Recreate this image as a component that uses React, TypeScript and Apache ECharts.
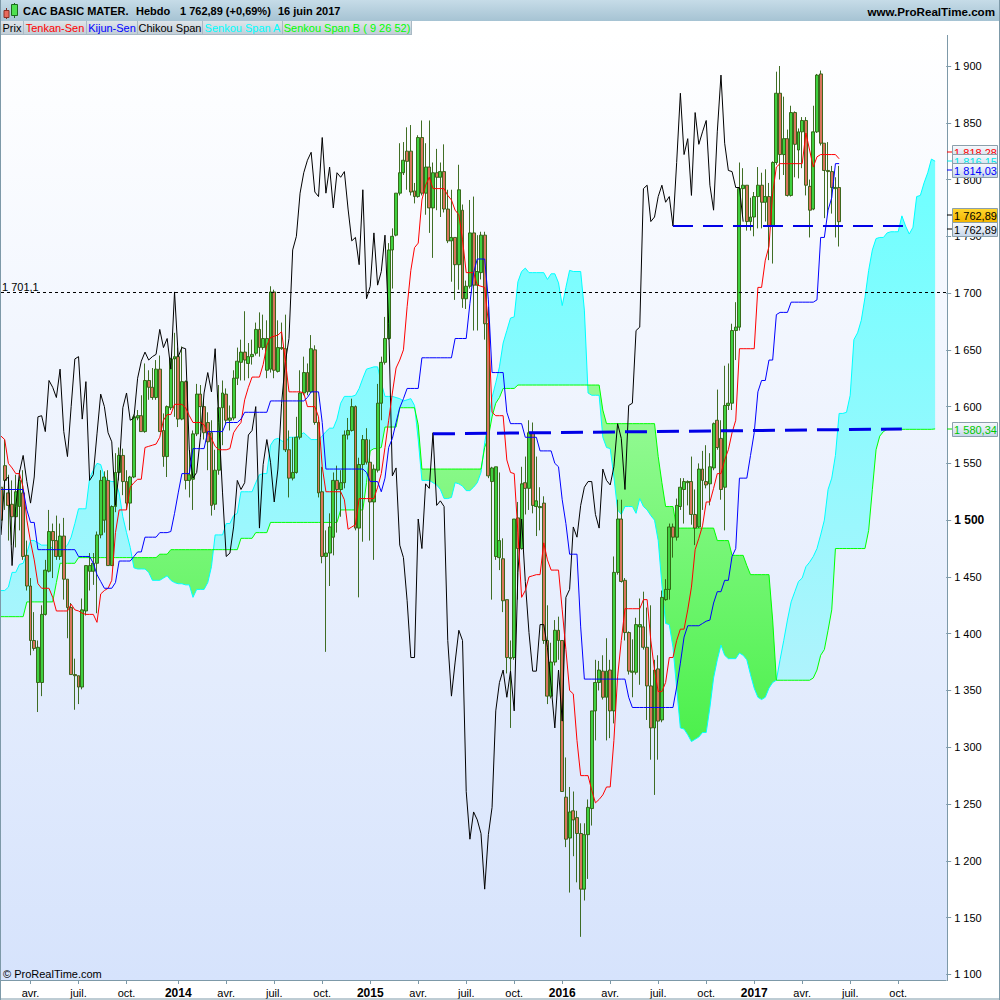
import React, { useEffect, useRef } from "react";
import * as echarts from "echarts";

const FONT = "Liberation Sans";
const BAR_COUNT = 257;
const tickIndices = [8, 21, 34, 48, 61, 74, 87, 100, 113, 126, 139, 152, 165, 178, 191, 204, 217, 230, 243];
const tickLabels = ["avr.", "juil.", "oct.", "2014", "avr.", "juil.", "oct.", "2015", "avr.", "juil.", "oct.", "2016", "avr.", "juil.", "oct.", "2017", "avr.", "juil.", "oct."];

// open, close, low, high
const candles = [
[1529,1500,1482,1535],[1548,1535,1509,1571],[1524,1513,1482,1540],[1514,1503,1478,1535],[1503,1525,1476,1540],
[1512,1535,1491,1544],[1524,1468,1465,1544],[1469,1442,1438,1482],[1442,1394,1381,1449],[1394,1387,1385,1419],
[1357,1388,1331,1394],[1357,1417,1345,1425],[1417,1456,1416,1465],[1455,1490,1454,1509],[1490,1482,1449,1497],
[1482,1468,1465,1504],[1468,1486,1465,1497],[1486,1448,1430,1502],[1448,1423,1396,1448],[1423,1364,1364,1427],
[1364,1363,1333,1378],[1363,1353,1338,1363],[1353,1421,1351,1431],[1420,1460,1416,1460],[1455,1460,1438,1471],
[1455,1462,1443,1471],[1462,1487,1418,1490],[1487,1535,1484,1544],[1500,1538,1489,1543],[1535,1460,1460,1544],
[1460,1512,1460,1513],[1512,1542,1507,1559],[1542,1557,1535,1564],[1557,1534,1522,1563],[1534,1515,1509,1544],
[1515,1538,1491,1539],[1538,1591,1537,1593],[1590,1592,1588,1597],[1592,1578,1578,1610],[1578,1623,1577,1638],
[1623,1617,1606,1632],[1617,1608,1606,1634],[1608,1633,1606,1641],[1633,1578,1578,1645],[1579,1556,1547,1594],
[1556,1600,1538,1601],[1599,1642,1597,1643],[1642,1644,1591,1665],[1644,1589,1582,1652],[1589,1622,1588,1653],
[1622,1535,1527,1623],[1535,1540,1520,1562],[1536,1576,1509,1579],[1576,1611,1574,1620],[1611,1600,1579,1619],
[1600,1577,1571,1606],[1586,1569,1544,1595],[1577,1513,1504,1588],[1514,1544,1509,1562],[1544,1599,1540,1619],
[1599,1612,1566,1623],[1611,1588,1584,1616],[1588,1590,1579,1601],[1590,1625,1588,1632],[1625,1640,1619,1652],
[1639,1648,1623,1659],[1648,1641,1623,1684],[1638,1644,1625,1656],[1644,1646,1637,1659],[1647,1668,1645,1674],
[1668,1652,1644,1683],[1652,1660,1650,1681],[1632,1660,1625,1676],[1633,1701,1630,1706],[1701,1632,1625,1703],
[1631,1652,1630,1676],[1652,1651,1650,1674],[1651,1562,1560,1681],[1562,1537,1520,1579],[1537,1542,1535,1573],
[1542,1573,1541,1591],[1573,1612,1571,1632],[1612,1630,1610,1644],[1630,1613,1610,1638],[1613,1651,1612,1663],
[1650,1586,1584,1654],[1586,1524,1520,1588],[1525,1468,1462,1547],[1468,1471,1384,1491],[1471,1494,1442,1506],
[1485,1535,1469,1542],[1535,1527,1489,1548],[1527,1533,1503,1544],[1533,1575,1528,1579],[1575,1579,1571,1590],
[1579,1600,1578,1607],[1600,1493,1491,1601],[1493,1549,1432,1555],[1549,1571,1481,1575],[1571,1551,1549,1581],
[1551,1516,1482,1571],[1516,1545,1465,1549],[1544,1603,1542,1620],[1603,1639,1588,1644],[1639,1660,1637,1679],
[1660,1738,1659,1744],[1738,1750,1704,1757],[1751,1788,1750,1788],[1788,1806,1786,1832],[1806,1817,1804,1833],
[1825,1816,1791,1846],[1825,1789,1786,1848],[1790,1785,1779,1797],[1785,1837,1784,1839],[1837,1788,1786,1852],
[1788,1811,1769,1832],[1811,1775,1753,1852],[1775,1806,1731,1815],[1806,1802,1773,1827],[1802,1807,1767,1815],
[1807,1774,1771,1831],[1774,1746,1744,1791],[1746,1749,1710,1791],[1749,1725,1694,1749],[1725,1791,1703,1813],
[1773,1695,1687,1778],[1695,1706,1686,1711],[1706,1753,1704,1782],[1753,1707,1667,1785],[1707,1719,1667,1751],
[1718,1751,1712,1754],[1751,1673,1659,1754],[1673,1539,1537,1688],[1534,1546,1430,1547],[1468,1547,1465,1547],
[1467,1482,1456,1542],[1466,1429,1419,1484],[1430,1379,1365,1430],[1378,1379,1317,1394],[1379,1501,1377,1501],
[1502,1475,1430,1516],[1475,1532,1474,1547],[1533,1528,1505,1556],[1528,1577,1509,1588],[1577,1513,1506,1586],
[1512,1517,1486,1556],[1511,1512,1491,1529],[1515,1394,1391,1521],[1394,1345,1338,1425],[1345,1375,1343,1392],
[1375,1403,1372,1412],[1403,1394,1377,1415],[1394,1261,1261,1394],[1256,1219,1212,1291],[1220,1243,1172,1265],
[1244,1236,1204,1261],[1238,1224,1181,1244],[1224,1175,1133,1233],[1175,1223,1165,1233],[1223,1247,1184,1254],
[1246,1332,1231,1332],[1332,1357,1306,1377],[1357,1368,1350,1376],[1367,1344,1342,1381],[1344,1367,1306,1396],
[1368,1332,1308,1377],[1332,1454,1321,1468],[1454,1501,1452,1518],[1501,1446,1445,1518],[1447,1401,1394,1449],
[1401,1367,1364,1402],[1366,1367,1344,1395],[1366,1408,1364,1414],[1406,1408,1355,1431],[1406,1388,1386,1437],
[1388,1354,1324,1423],[1354,1317,1289,1425],[1317,1368,1258,1377],[1369,1323,1289,1381],[1324,1432,1322,1438],
[1430,1439,1429,1448],[1439,1494,1430,1497],[1494,1485,1467,1497],[1485,1513,1482,1519],[1512,1529,1509,1537],
[1527,1534,1497,1537],[1533,1534,1513,1535],[1534,1505,1496,1556],[1505,1493,1478,1527],[1494,1545,1493,1550],
[1545,1535,1509,1561],[1534,1531,1528,1566],[1532,1547,1513,1559],[1546,1585,1544,1586],[1588,1564,1562,1615],
[1572,1527,1518,1588],[1529,1601,1491,1636],[1601,1603,1597,1638],[1603,1667,1597,1673],[1667,1670,1641,1692],
[1670,1792,1667,1815],[1792,1795,1769,1810],[1795,1763,1755,1795],[1763,1767,1755,1784],[1767,1785,1750,1789],
[1785,1795,1757,1811],[1795,1780,1757,1806],[1780,1785,1763,1809],[1785,1759,1729,1797],[1759,1815,1726,1816],
[1815,1876,1813,1895],[1876,1822,1800,1900],[1822,1836,1804,1873],[1836,1786,1785,1844],[1786,1859,1785,1865],
[1859,1831,1802,1860],[1826,1842,1801,1845],[1842,1852,1810,1855],[1852,1795,1786,1855],[1794,1773,1749,1800],
[1774,1842,1773,1865],[1842,1892,1841,1893],[1893,1832,1830,1896],[1832,1808,1766,1832],[1808,1807,1769,1833],
[1807,1793,1770,1812],[1792,1793,1749,1802],[1793,1762.89,1741,1812],
];

const tenkan = [
1574,1571,1550,1546,1541,1541,1529,1500,1481,1465,
1444,1440,1440,1440,1432,1420,1420,1420,1420,1426,
1421,1420,1418,1417,1417,1417,1410,1435,1438,1440,
1447,1489,1509,1509,1509,1529,1533,1536,1536,1564,
1565,1566,1567,1573,1588,1593,1593,1602,1602,1602,
1599,1592,1586,1586,1586,1584,1577,1572,1565,1562,
1562,1562,1563,1577,1582,1586,1606,1617,1626,1626,
1626,1637,1654,1661,1662,1663,1666,1641,1613,1613,
1613,1613,1612,1600,1600,1600,1591,1547,1525,1525,
1525,1525,1525,1518,1492,1494,1496,1519,1519,1519,
1519,1519,1529,1541,1564,1588,1612,1634,1641,1650,
1688,1720,1740,1744,1782,1795,1802,1792,1792,1792,
1792,1786,1782,1773,1769,1747,1718,1718,1718,1707,
1706,1705,1674,1595,1592,1592,1592,1553,1542,1541,
1489,1432,1438,1450,1451,1452,1452,1480,1465,1456,
1456,1456,1421,1386,1350,1347,1306,1275,1275,1275,
1262,1251,1254,1258,1265,1265,1306,1362,1394,1422,
1422,1422,1422,1422,1430,1430,1394,1368,1349,1349,
1357,1379,1379,1394,1404,1404,1421,1441,1474,1484,
1495,1516,1516,1528,1541,1541,1553,1562,1577,1588,
1651,1651,1651,1651,1651,1705,1705,1729,1741,1788,
1811,1814,1814,1814,1814,1814,1814,1814,1841,1826,
1811,1820,1822,1822,1822,1822,1822,1818.28,
];

const kijun = [
1527,1527,1527,1527,1527,1527,1527,1509,1498,1498,
1474,1474,1474,1474,1474,1474,1474,1474,1474,1474,
1474,1468,1468,1468,1468,1462,1452,1446,1440,1440,
1440,1445,1464,1464,1464,1464,1468,1472,1472,1485,
1485,1485,1485,1489,1489,1489,1490,1506,1524,1541,
1541,1541,1563,1563,1563,1563,1578,1578,1578,1578,
1578,1586,1586,1586,1586,1589,1595,1595,1595,1595,
1595,1595,1595,1605,1605,1605,1605,1605,1605,1605,
1605,1605,1605,1608,1613,1613,1613,1586,1545,1545,
1545,1545,1545,1545,1545,1545,1545,1545,1545,1542,
1534,1534,1534,1525,1537,1564,1572,1586,1599,1607,
1616,1616,1616,1616,1643,1643,1643,1643,1643,1643,
1643,1643,1643,1660,1660,1660,1660,1691,1718,1730,
1730,1730,1694,1630,1630,1630,1630,1595,1585,1585,
1585,1585,1573,1573,1573,1573,1561,1561,1561,1561,
1550,1547,1518,1497,1470,1470,1470,1406,1360,1360,
1360,1360,1360,1360,1360,1360,1360,1360,1360,1360,
1344,1335,1335,1335,1335,1335,1335,1335,1335,1335,
1335,1335,1335,1353,1374,1397,1407,1407,1407,1407,
1409,1411,1412,1427,1437,1437,1447,1447,1468,1475,
1537,1537,1537,1557,1577,1613,1623,1623,1641,1641,
1681,1683,1683,1683,1692,1692,1692,1692,1692,1692,
1692,1694,1749,1749,1773,1784,1814,1814.03,
];

const chikou = [
1487,1535,1538,1460,1512,1542,1557,1534,1515,1538,
1591,1592,1578,1623,1617,1608,1633,1578,1556,1600,
1642,1644,1589,1622,1535,1540,1576,1611,1600,1577,
1569,1513,1544,1599,1612,1588,1590,1625,1640,1648,
1641,1644,1646,1668,1652,1660,1633,1701,1644,1652,
1651,1562,1537,1542,1573,1612,1630,1613,1651,1586,
1524,1468,1471,1494,1535,1527,1533,1575,1579,1600,
1493,1549,1571,1551,1516,1545,1603,1639,1660,1738,
1750,1788,1806,1817,1824,1789,1785,1837,1788,1811,
1775,1806,1802,1807,1774,1746,1749,1725,1791,1695,
1706,1753,1707,1719,1751,1673,1539,1546,1478,1467,
1429,1379,1379,1501,1475,1532,1528,1577,1513,1517,
1512,1394,1345,1375,1403,1394,1261,1219,1243,1236,
1224,1175,1223,1247,1332,1357,1368,1344,1367,1332,
1454,1501,1446,1401,1367,1367,1408,1408,1388,1354,
1317,1368,1323,1432,1439,1494,1485,1513,1529,1534,
1534,1505,1493,1545,1535,1531,1547,1585,1572,1527,
1601,1603,1667,1670,1792,1795,1763,1767,1785,1795,
1780,1785,1759,1815,1876,1822,1836,1786,1859,1831,
1842,1852,1795,1773,1842,1892,1832,1808,1807,1793,
1793,1762.89,
];

const senkouA = [
1438,1438,1441,1454,1454,1461,1462,1471,1482,1482,
1480,1478,1478,1478,1475,1471,1471,1475,1478,1485,
1497,1510,1510,1510,1537,1544,1550,1549,1538,1535,
1534,1534,1524,1503,1489,1476,1458,1457,1457,1457,
1454,1447,1447,1447,1449,1451,1447,1445,1444,1444,
1443,1443,1432,1439,1439,1439,1445,1459,1487,1487,
1487,1497,1497,1504,1506,1525,1525,1525,1525,1533,
1540,1541,1541,1566,1571,1572,1570,1568,1573,1573,
1573,1575,1577,1574,1571,1571,1571,1574,1578,1581,
1581,1589,1603,1609,1609,1609,1610,1616,1625,1633,
1634,1635,1635,1621,1609,1609,1609,1608,1607,1605,
1606,1607,1601,1571,1535,1535,1535,1533,1531,1527,
1519,1519,1520,1533,1532,1530,1526,1526,1529,1533,
1542,1568,1588,1608,1621,1635,1656,1667,1678,1679,
1710,1719,1722,1718,1718,1718,1718,1718,1712,1717,
1717,1709,1689,1705,1720,1719,1719,1719,1685,1612,
1610,1610,1610,1573,1564,1563,1538,1509,1505,1512,
1512,1512,1506,1519,1512,1509,1504,1500,1482,1443,
1409,1408,1388,1352,1317,1316,1311,1305,1307,1309,
1313,1313,1335,1361,1377,1390,1381,1378,1378,1378,
1383,1381,1377,1364,1352,1344,1342,1344,1352,1357,
1359,1377,1394,1412,1428,1437,1446,1449,1459,1463,
1468,1475,1487,1500,1527,1537,1557,1594,1594,1595,
1610,1659,1665,1676,1696,1720,1738,1748,1749,1749,
1753,1754,1754,1754,1768,1759,1752,1758,1785,1786,
1797,1806,1818,1816.15,
];

const senkouB = [
1415,1415,1415,1415,1415,1415,1415,1428,1428,1428,
1428,1428,1428,1428,1428,1445,1462,1462,1462,1462,
1462,1467,1467,1467,1467,1467,1467,1467,1467,1467,
1467,1467,1467,1467,1467,1467,1467,1467,1467,1467,
1467,1467,1467,1470,1470,1470,1474,1474,1474,1474,
1474,1474,1474,1474,1474,1474,1474,1474,1474,1474,
1474,1474,1474,1474,1474,1484,1484,1484,1484,1489,
1489,1489,1489,1498,1498,1498,1498,1498,1498,1498,
1498,1498,1498,1498,1498,1498,1498,1498,1498,1498,
1498,1498,1509,1509,1509,1509,1509,1509,1509,1533,
1561,1563,1563,1564,1582,1582,1582,1582,1599,1599,
1599,1599,1599,1584,1545,1545,1545,1545,1545,1545,
1545,1545,1545,1545,1545,1545,1545,1545,1545,1545,
1545,1564,1573,1591,1603,1608,1616,1616,1616,1616,
1619,1619,1619,1619,1619,1619,1619,1619,1619,1619,
1619,1619,1619,1619,1619,1619,1619,1619,1619,1619,
1619,1619,1619,1597,1585,1585,1585,1585,1585,1585,
1585,1585,1585,1585,1585,1585,1585,1585,1556,1533,
1512,1512,1512,1493,1493,1493,1493,1493,1493,1493,
1493,1493,1493,1493,1482,1482,1482,1482,1469,1469,
1469,1469,1460,1452,1452,1452,1452,1452,1452,1412,
1359,1359,1359,1359,1359,1359,1359,1359,1359,1359,
1361,1368,1381,1386,1403,1421,1475,1475,1475,1475,
1475,1475,1475,1475,1475,1491,1527,1562,1574,1578,
1580,1580,1580,1580,1580,1580,1580,1580,1580,1580,
1580,1580,1580,1580.34,
];

const referenceLevel = 1701.1;
const lowerTrend = [[117, 1576], [244, 1580.3]];
const upperTrend = [[182, 1759], [245, 1759]];

const yTicks = { min: 1100, max: 1900, step: 50, bold: 1500 };

const categories = Array.from({ length: BAR_COUNT }, (_, i) => {
  const k = tickIndices.indexOf(i);
  return k >= 0 ? tickLabels[k] : "";
});

type Run = { above: boolean; pts: number[][] };
function buildRuns(a: number[], b: number[]): Run[] {
  const runs: Run[] = [];
  let above = a[0] >= b[0];
  let top: number[][] = [[0, a[0]]];
  let bot: number[][] = [[0, b[0]]];
  const close = () => runs.push({ above, pts: top.concat(bot.slice().reverse()) });
  for (let i = 1; i < a.length; i++) {
    const s = a[i] >= b[i];
    if (s !== above) {
      const d0 = a[i - 1] - b[i - 1];
      const d1 = a[i] - b[i];
      const t = d0 / (d0 - d1);
      const c = [i - 1 + t, a[i - 1] + (a[i] - a[i - 1]) * t];
      top.push(c);
      bot.push(c);
      close();
      above = s;
      top = [c];
      bot = [c];
    }
    top.push([i, a[i]]);
    bot.push([i, b[i]]);
  }
  close();
  return runs;
}
const cloudRuns = buildRuns(senkouA, senkouB);

const cyanFill = {
  type: "linear", x: 0, y: 200, x2: 0, y2: 690, global: true,
  colorStops: [{ offset: 0, color: "#72ffff" }, { offset: 1, color: "#b0f3fc" }],
};
const greenFill = {
  type: "linear", x: 0, y: 420, x2: 0, y2: 740, global: true,
  colorStops: [{ offset: 0, color: "#92fa92" }, { offset: 1, color: "#4cf04c" }],
};

const FRAME = "#7d99a8";
const DARK = "#2b5e0c";

function labelBox(y: number, text: string, color: string, fill: any, z: number, tick: string) {
  return [
    { type: "line", z, shape: { x1: 947, y1: y + 7, x2: 953, y2: y + 7 }, style: { stroke: tick, lineWidth: 1 } },
    { type: "rect", z, shape: { x: 952.5, y: y + 0.5, width: 45, height: 14 }, style: { fill, stroke: "#8b9fab", lineWidth: 1 } },
    { type: "text", z, x: 975.5, y: y + 7.5, style: { text, fill: color, font: `11px '${FONT}'`, textAlign: "center", textVerticalAlign: "middle" } },
  ];
}
const boxFill = { type: "linear", x: 0, y: 0, x2: 0, y2: 1, colorStops: [{ offset: 0, color: "#f8fafd" }, { offset: 1, color: "#c6d6ea" }] };
const goldFill = { type: "linear", x: 0, y: 0, x2: 0, y2: 1, colorStops: [{ offset: 0, color: "#ffd62e" }, { offset: 1, color: "#f2b400" }] };
const barFill = { type: "linear", x: 0, y: 0, x2: 0, y2: 1, colorStops: [{ offset: 0, color: "#c6dce8" }, { offset: 1, color: "#a6c3d3" }] };
const tabFill = { type: "linear", x: 0, y: 0, x2: 0, y2: 1, colorStops: [{ offset: 0, color: "#dfe5ea" }, { offset: 1, color: "#c2ced7" }] };

const legendTabs = [
  { x: 1, w: 22, text: "Prix", color: "#000000" },
  { x: 24, w: 62, text: "Tenkan-Sen", color: "#ff0000" },
  { x: 87, w: 50, text: "Kijun-Sen", color: "#0000ff" },
  { x: 138, w: 64, text: "Chikou Span", color: "#000000" },
  { x: 203, w: 79, text: "Senkou Span A", color: "#00ffff" },
  { x: 283, w: 128, text: "Senkou Span B ( 9 26 52)", color: "#00ff00" },
];

const titleParts = [
  { x: 23, text: "CAC BASIC MATER." },
  { x: 136, text: "Hebdo" },
  { x: 180, text: "1 762,89 (+0,69%)" },
  { x: 278, text: "16 juin 2017" },
];

function graphics() {
  const bg = {
    type: "linear", x: 0, y: 0, x2: 0, y2: 1,
    colorStops: [{ offset: 0, color: "#ffffff" }, { offset: 1, color: "#d6e3fc" }],
  };
  const out: any[] = [
    { type: "rect", z: -10, shape: { x: 1, y: 35, width: 946, height: 945 }, style: { fill: bg } },
    { type: "line", z: 50, shape: { x1: 947.5, y1: 35, x2: 947.5, y2: 981 }, style: { stroke: FRAME, lineWidth: 1 } },
    { type: "rect", z: 60, shape: { x: 0, y: 0, width: 1000, height: 21 }, style: { fill: barFill } },
    { type: "rect", z: 60, shape: { x: 0, y: 21, width: 412, height: 14 }, style: { fill: "#a9bac5" } },
    { type: "line", z: 60, shape: { x1: 0.5, y1: 0, x2: 0.5, y2: 1000 }, style: { stroke: FRAME, lineWidth: 1 } },
    { type: "line", z: 60, shape: { x1: 999.5, y1: 0, x2: 999.5, y2: 1000 }, style: { stroke: FRAME, lineWidth: 1 } },
    { type: "line", z: 60, shape: { x1: 0, y1: 999, x2: 1000, y2: 999 }, style: { stroke: FRAME, lineWidth: 1 } },
    { type: "line", z: 61, shape: { x1: 6.5, y1: 8, x2: 6.5, y2: 19 }, style: { stroke: "#7d2a20", lineWidth: 1 } },
    { type: "rect", z: 62, shape: { x: 4, y: 10.5, width: 5, height: 7 }, style: { fill: "#e86a5c", stroke: "#8a3025", lineWidth: 1 } },
    { type: "line", z: 61, shape: { x1: 14.5, y1: 3, x2: 14.5, y2: 18 }, style: { stroke: "#1d6b1d", lineWidth: 1 } },
    { type: "rect", z: 62, shape: { x: 11.5, y: 4.5, width: 6, height: 11 }, style: { fill: "#4fe04f", stroke: "#1d6b1d", lineWidth: 1 } },
    { type: "text", z: 62, x: 995, y: 11, style: { text: "www.ProRealTime.com", fill: "#000", font: `bold 11.6px '${FONT}'`, textAlign: "right", textVerticalAlign: "middle" } },
    { type: "text", z: 40, x: 2, y: 287, style: { text: "1 701,1", fill: "#000", font: `11px '${FONT}'`, textAlign: "left", textVerticalAlign: "middle" } },
    { type: "text", z: 40, x: 3, y: 974, style: { text: "\u00a9 ProRealTime.com", fill: "#000", font: `11px '${FONT}'`, textAlign: "left", textVerticalAlign: "middle" } },
  ];
  titleParts.forEach((t) => out.push({ type: "text", z: 62, x: t.x, y: 11, style: { text: t.text, fill: "#000", font: `bold 11px '${FONT}'`, textAlign: "left", textVerticalAlign: "middle" } }));
  legendTabs.forEach((t) => {
    out.push({ type: "rect", z: 61, shape: { x: t.x, y: 21, width: t.w, height: 13 }, style: { fill: tabFill } });
    out.push({ type: "text", z: 62, x: t.x + t.w / 2, y: 27.5, style: { text: t.text, fill: t.color, font: `11px '${FONT}'`, textAlign: "center", textVerticalAlign: "middle" } });
  });
  out.push(...labelBox(145, "1 818,28", "#ff0000", boxFill, 70, "#ff0000"));
  out.push(...labelBox(154, "1 816,15", "#00e8e8", boxFill, 71, "#00e8e8"));
  out.push(...labelBox(163, "1 814,03", "#0000ff", boxFill, 72, "#0000ff"));
  out.push(...labelBox(208, "1 762,89", "#000000", goldFill, 73, "#000000"));
  out.push(...labelBox(222, "1 762,89", "#000000", boxFill, 74, "#000000"));
  out.push(...labelBox(422, "1 580,34", "#00c800", boxFill, 75, "#00e000"));
  return out;
}

function lineSeries(name: string, data: any[], color: string, z: number, width = 1, dash?: number[]) {
  return {
    name, type: "line", data, z, showSymbol: false, symbol: "none", silent: true, clip: false,
    lineStyle: { color, width, ...(dash ? { type: dash } : {}) },
  };
}

export default function App() {
  const ref = useRef<HTMLDivElement>(null);
  useEffect(() => {
    const chart = echarts.init(ref.current!, undefined, { renderer: "svg" });
    chart.setOption({
      animation: false,
      textStyle: { fontFamily: FONT },
      grid: { left: 1, top: 66, width: 945.2, height: 908.3, containLabel: false },
      xAxis: {
        type: "category",
        data: categories,
        boundaryGap: false,
        offset: 5.7,
        axisLine: { lineStyle: { color: FRAME, width: 1 } },
        axisTick: { length: 4, lineStyle: { color: FRAME }, interval: (i: number) => categories[i] !== "" },
        axisLabel: {
          interval: (i: number) => categories[i] !== "",
          margin: 7,
          color: "#000",
          fontSize: 11,
          fontFamily: FONT,
          hideOverlap: false,
          formatter: (v: string) => (/^\d+$/.test(v) ? `{b|${v}}` : v),
          rich: { b: { fontWeight: "bold", fontSize: 12, fontFamily: FONT, color: "#000" } },
        },
        splitLine: { show: false },
      },
      yAxis: {
        type: "value",
        position: "right",
        min: yTicks.min,
        max: yTicks.max,
        interval: yTicks.step,
        scale: true,
        axisLine: { show: false },
        axisTick: { show: true, length: 5, lineStyle: { color: FRAME } },
        splitLine: { show: false },
        axisLabel: {
          margin: 8,
          color: "#000",
          fontSize: 11,
          fontFamily: FONT,
          hideOverlap: false,
          formatter: (v: number) => {
            const s = `1 ${String(v).slice(1)}`;
            return v === yTicks.bold ? `{b|${s}}` : s;
          },
          rich: { b: { fontWeight: "bold", fontSize: 12, fontFamily: FONT, color: "#000" } },
        },
      },
      graphic: { elements: graphics() },
      series: [
        {
          name: "Nuage",
          type: "custom",
          z: 1,
          silent: true,
          clip: false,
          data: cloudRuns.map((r) => [r.pts[0][0], 1500]),
          renderItem: (params: any, api: any) => {
            const run = cloudRuns[params.dataIndex];
            const points = run.pts.map(([x, v]) => {
              const f = Math.floor(x);
              const a = api.coord([f, v]);
              const b = api.coord([f + 1, v]);
              return [a[0] + (b[0] - a[0]) * (x - f), a[1]];
            });
            return { type: "polygon", shape: { points }, style: { fill: run.above ? cyanFill : greenFill, stroke: "none" } };
          },
        },
        lineSeries("Senkou Span A", senkouA, "#00ffff", 2),
        lineSeries("Senkou Span B", senkouB, "#00ff00", 2),
        {
          name: "Prix",
          type: "candlestick",
          z: 3,
          silent: true,
          clip: false,
          barWidth: 3.4,
          data: candles,
          itemStyle: { color: "#3fd03f", color0: "#d8755c", borderColor: DARK, borderColor0: DARK, borderWidth: 0.9 },
          markLine: {
            silent: true,
            symbol: "none",
            label: { show: false },
            lineStyle: { color: "#000", width: 1, type: [3, 3] },
            data: [{ yAxis: referenceLevel }],
          },
        },
        lineSeries("Chikou Span", chikou, "#000000", 4),
        lineSeries("Tenkan-Sen", tenkan, "#ff0000", 5),
        lineSeries("Kijun-Sen", kijun, "#0000ff", 5),
        lineSeries("Support bas", lowerTrend, "#0000e6", 6, 3, [22, 10]),
        lineSeries("Support haut", upperTrend, "#0000e6", 6, 2, [20, 10]),
      ],
    });
    return () => chart.dispose();
  }, []);
  return <div ref={ref} style={{ position: "fixed", left: 0, top: 0, width: 1000, height: 1000, background: "#fff" }} />;
}
